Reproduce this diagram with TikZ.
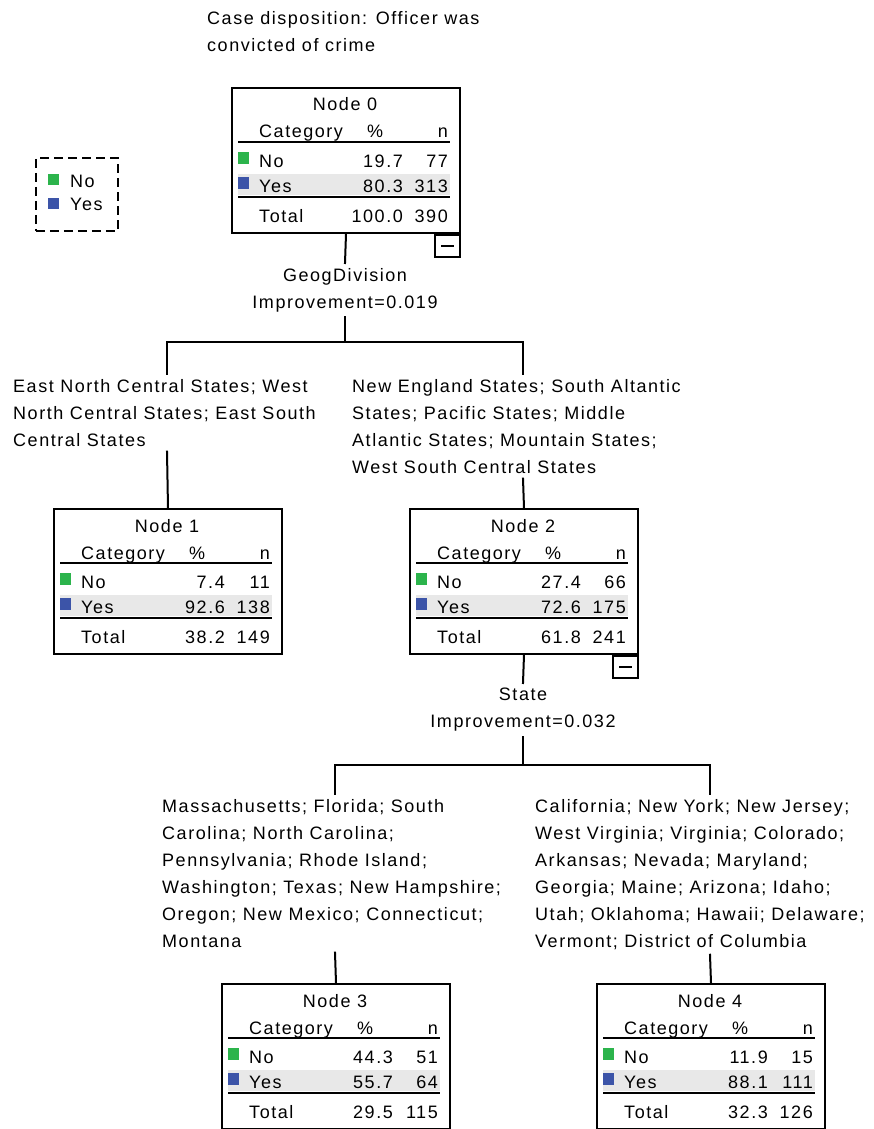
\documentclass[tikz,border=0pt]{standalone}
\usepackage{fontspec}
\setmainfont{Liberation Sans}[LetterSpace=8.5]
\definecolor{nocol}{RGB}{44,180,76}
\definecolor{yescol}{RGB}{60,84,168}
\definecolor{bandgray}{RGB}{232,232,232}
\tikzset{
  txt/.style={inner sep=0pt},
  tbox/.style={draw, line width=2pt, minimum width=228pt, minimum height=145pt, inner sep=0pt, anchor=north west},
  rulel/.style={line width=2pt},
  conn/.style={line width=2pt, line cap=rect},
  minusbox/.style={draw, line width=1.6pt, minimum width=25pt, minimum height=22pt, inner sep=0pt, anchor=north east},
  lbl/.style={inner xsep=0pt, inner ysep=5pt, align=left, anchor=north west},
  split/.style={inner xsep=0pt, inner ysep=5pt, align=center, anchor=north},
  legbox/.style={draw, dash pattern=on 9pt off 5pt, line width=1.6pt, minimum width=82pt, minimum height=73pt, inner sep=0pt, anchor=north west}
}
\newcommand\treenode[8]{%
\begin{scope}[shift={(#2)}]
\fill[bandgray] (7,87) rectangle (219,108);
\node[tbox] (n#1) at (0,0) {};
\draw[rulel] (7,55) -- (219,55);
\draw[rulel] (7,110) -- (219,110);
\fill[nocol] (7,65) rectangle (18,77);
\fill[yescol] (7,90) rectangle (18,102);
\node[txt,anchor=base] (n#1-t) at (114,24) {Node #1};
\node[txt,anchor=base west] (n#1-c) at (28,51) {Category};
\node[txt,anchor=base] (n#1-p) at (144,51) {\%};
\node[txt,anchor=base east] (n#1-n) at (217,51) {n};
\node[txt,anchor=base west] (n#1-no) at (28,80) {No};
\node[txt,anchor=base east] (n#1-nop) at (172,80) {#3};
\node[txt,anchor=base east] (n#1-non) at (217,80) {#4};
\node[txt,anchor=base west] (n#1-yes) at (28,105) {Yes};
\node[txt,anchor=base east] (n#1-yesp) at (172,105) {#5};
\node[txt,anchor=base east] (n#1-yesn) at (217,105) {#6};
\node[txt,anchor=base west] (n#1-tot) at (28,135) {Total};
\node[txt,anchor=base east] (n#1-totp) at (172,135) {#7};
\node[txt,anchor=base east] (n#1-totn) at (217,135) {#8};
\end{scope}}
\begin{document}
\begin{tikzpicture}[x=1pt,y=-1pt,font=\fontsize{18}{27}\selectfont]
\useasboundingbox (0,0) rectangle (874,1129);
% title
\node[txt, align=left, anchor=north west] (title) at (207,11) {Case disposition: Officer was\\convicted of crime};
% legend
\node[legbox] (legend) at (35,157) {};
\fill[nocol] (48,174) rectangle (59,185);
\fill[yescol] (48,198) rectangle (59,209);
\node[txt, anchor=base west] (leg-no) at (70,187) {No};
\node[txt, anchor=base west] (leg-yes) at (70,210) {Yes};
% nodes
\treenode{0}{231,87}{19.7}{77}{80.3}{313}{100.0}{390}
\treenode{1}{53,508}{7.4}{11}{92.6}{138}{38.2}{149}
\treenode{2}{409,508}{27.4}{66}{72.6}{175}{61.8}{241}
\treenode{3}{221,983}{44.3}{51}{55.7}{64}{29.5}{115}
\treenode{4}{596,983}{11.9}{15}{88.1}{111}{32.3}{126}
\node[minusbox] (n0-m) at (n0.south east) {\rule{13pt}{1.6pt}};
\node[minusbox] (n2-m) at (n2.south east) {\rule{13pt}{1.6pt}};
% split labels
\node[split] (s0) at (345,263) {GeogDivision\\Improvement=0.019};
\node[split] (s2) at (523,683) {State\\Improvement=0.032};
% branch labels
\node[lbl] (b1) at (13,374) {East North Central States; West\\North Central States; East South\\Central States};
\node[lbl] (b2) at (352,374) {New England States; South Altantic\\States; Pacific States; Middle\\Atlantic States; Mountain States;\\West South Central States};
\node[lbl] (b3) at (162,794) {Massachusetts; Florida; South\\Carolina; North Carolina;\\Pennsylvania; Rhode Island;\\Washington; Texas; New Hampshire;\\Oregon; New Mexico; Connecticut;\\Montana};
\node[lbl] (b4) at (535,794) {California; New York; New Jersey;\\West Virginia; Virginia; Colorado;\\Arkansas; Nevada; Maryland;\\Georgia; Maine; Arizona; Idaho;\\Utah; Oklahoma; Hawaii; Delaware;\\Vermont; District of Columbia};
% connectors level 1
\coordinate (j0) at (345,342);
\coordinate (l0) at (167,342);
\coordinate (r0) at (523,342);
\draw[conn] (n0.south) -- (s0.north);
\draw[conn] (s0.south) -- (j0);
\draw[conn] (l0) -- (r0);
\draw[conn] (l0) -- (l0 |- b1.north);
\draw[conn] (l0 |- b1.south) -- (n1.north);
\draw[conn] (r0) -- (r0 |- b2.north);
\draw[conn] (r0 |- b2.south) -- (n2.north);
% connectors level 2
\coordinate (j2) at (523,765);
\coordinate (l2) at (335,765);
\coordinate (r2) at (710,765);
\draw[conn] (n2.south) -- (s2.north);
\draw[conn] (s2.south) -- (j2);
\draw[conn] (l2) -- (r2);
\draw[conn] (l2) -- (l2 |- b3.north);
\draw[conn] (l2 |- b3.south) -- (n3.north);
\draw[conn] (r2) -- (r2 |- b4.north);
\draw[conn] (r2 |- b4.south) -- (n4.north);
\end{tikzpicture}
\end{document}
